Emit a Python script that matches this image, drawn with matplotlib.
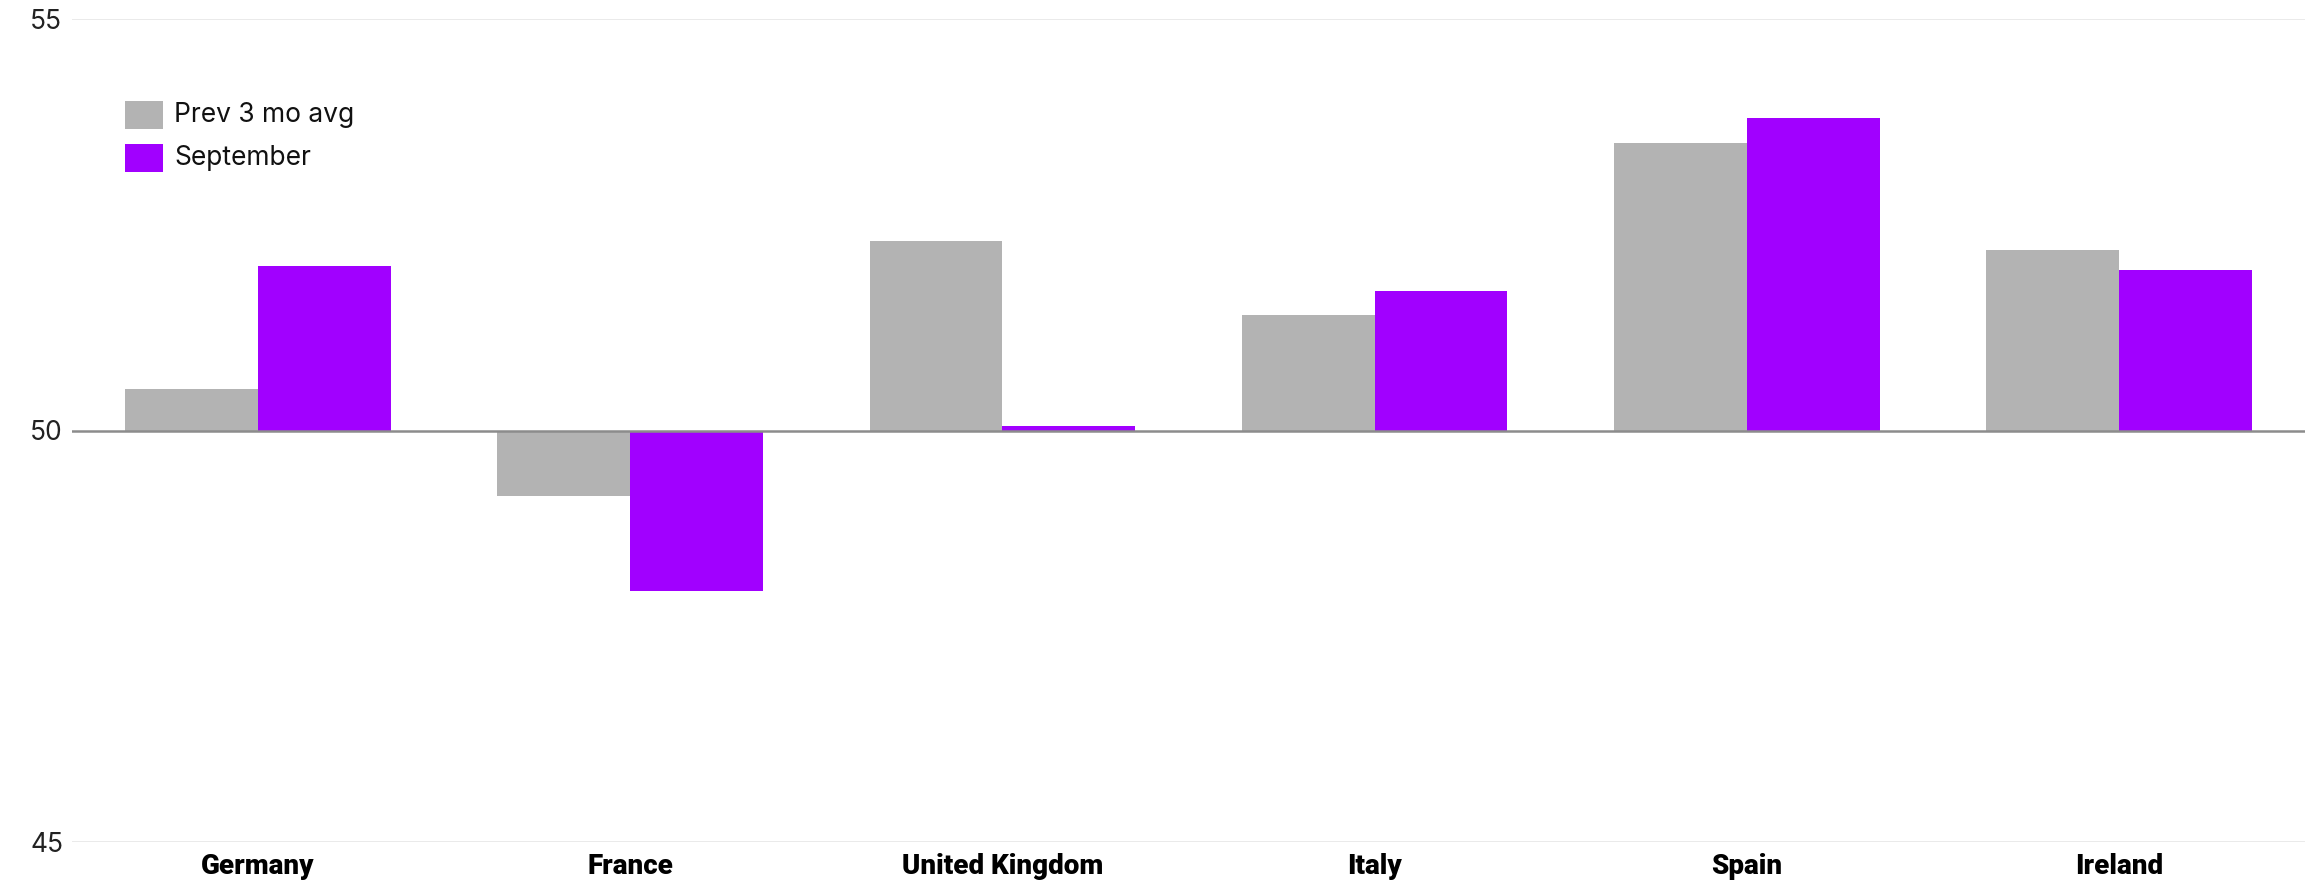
import numpy as np
import matplotlib
matplotlib.use("Agg")
import matplotlib.pyplot as plt
from matplotlib.patches import Rectangle

countries = ["Germany", "France", "United Kingdom", "Italy", "Spain", "Ireland"]
prev_3mo_avg = [50.5, 49.2, 52.3, 51.4, 53.5, 52.2]
september = [52.0, 48.05, 50.06, 51.7, 53.8, 51.95]
series_names = ["Prev 3 mo avg", "September"]
y_ticks = [45, 50, 55]

GRAY = "#b3b3b3"
PURPLE = "#a100ff"
BASE = 50

plt.rcParams["font.family"] = ["Inter", "DejaVu Sans"]

W, H, DPI = 2315, 882, 100
fig = plt.figure(figsize=(W / DPI, H / DPI), dpi=DPI)
ax = fig.add_axes([72 / W, 1 - 841.7 / H, (2305 - 72) / W, (841.7 - 19.3) / H])

x = np.arange(len(countries))
bw = 0.357
prev = np.array(prev_3mo_avg)
sept = np.array(september)
ax.bar(x - bw / 2, prev - BASE, bottom=BASE, width=bw, color=GRAY, zorder=2)
ax.bar(x + bw / 2, sept - BASE, bottom=BASE, width=bw, color=PURPLE, zorder=2)

ax.set_xlim(-0.5, len(countries) - 0.5)
ax.set_ylim(min(y_ticks), max(y_ticks))
ax.set_yticks(y_ticks)
ax.set_xticks(x)
ax.set_xticklabels(countries, fontsize=20, fontweight="heavy", family=["Roboto", "DejaVu Sans"])
ax.set_yticklabels([str(t) for t in y_ticks], fontsize=19, color="#222222")
ax.tick_params(axis="both", length=0)
ax.tick_params(axis="x", pad=8)
ax.tick_params(axis="y", pad=30)
for lbl in ax.get_yticklabels():
    lbl.set_horizontalalignment("left")

for t in y_ticks:
    if t == BASE:
        ax.axhline(t, color="#8c8c8c", lw=1.8, zorder=3)
    else:
        ax.axhline(t, color="#e6e6e6", lw=1.2, zorder=1)

for s in ax.spines.values():
    s.set_visible(False)

# legend drawn as swatches with labels
swatches = [(GRAY, 0.9007), (PURPLE, 0.8483)]
for (col, top), name in zip(swatches, series_names):
    ax.add_patch(Rectangle((0.0237, top - 0.0341), 0.017, 0.0341, transform=ax.transAxes,
                           facecolor=col, edgecolor="none", clip_on=False, zorder=4))
    ax.text(0.0457, top - 0.0171, name, transform=ax.transAxes, fontsize=19,
            va="center", ha="left", color="#111111")

fig.savefig("out.png", dpi=DPI, facecolor="white")
